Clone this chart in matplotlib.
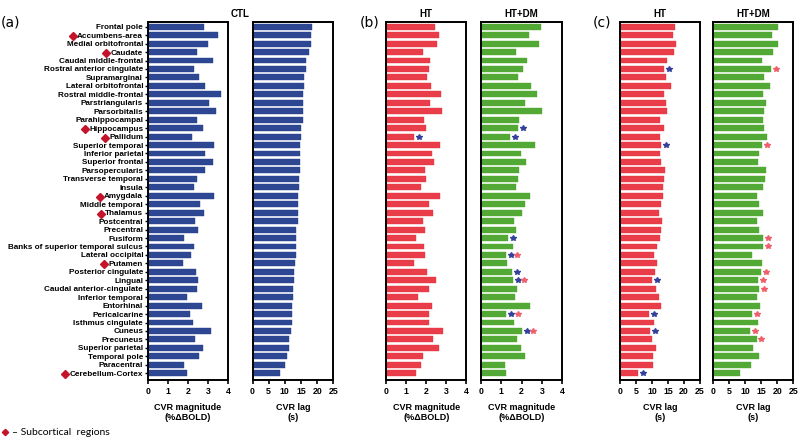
import matplotlib.pyplot as plt
import numpy as np

regions = ['Frontal pole', 'Accumbens-area', 'Medial orbitofrontal', 'Caudate', 'Caudal middle-frontal',
           'Rostral anterior cingulate', 'Supramarginal', 'Lateral orbitofrontal', 'Rostral middle-frontal',
           'Parstriangularis', 'Parsorbitalis', 'Parahippocampal', 'Hippocampus', 'Pallidum',
           'Superior temporal', 'Inferior parietal', 'Superior frontal', 'Parsopercularis',
           'Transverse temporal', 'Insula', 'Amygdala', 'Middle temporal', 'Thalamus', 'Postcentral',
           'Precentral', 'Fusiform', 'Banks of superior temporal sulcus', 'Lateral occipital', 'Putamen',
           'Posterior cingulate', 'Lingual', 'Caudal anterior-cingulate', 'Inferior temporal', 'Entorhinal',
           'Pericalcarine', 'Isthmus cingulate', 'Cuneus', 'Precuneus', 'Superior parietal',
           'Temporal pole', 'Paracentral', 'Cerebellum-Cortex']
subcortical = ['Accumbens-area', 'Caudate', 'Hippocampus', 'Pallidum', 'Amygdala', 'Thalamus',
               'Putamen', 'Cerebellum-Cortex']

ctl_mag = [2.80, 3.48, 2.98, 2.43, 3.23, 2.32, 2.53, 2.83, 3.65, 3.07, 3.40, 2.47, 2.77, 2.22, 3.28,
           2.83, 3.23, 2.83, 2.43, 2.32, 3.30, 2.58, 2.78, 2.35, 2.50, 1.82, 2.31, 2.13, 1.75, 2.38,
           2.48, 2.45, 1.97, 2.68, 2.08, 2.26, 3.16, 2.33, 2.76, 2.56, 1.80, 1.93]
ctl_lag = [18.3, 18.1, 18.0, 17.6, 16.4, 16.4, 15.9, 15.9, 15.6, 15.6, 15.6, 15.5, 15.0, 14.9, 14.8,
           14.7, 14.6, 14.6, 14.4, 14.3, 14.2, 14.1, 14.1, 14.0, 13.6, 13.5, 13.4, 13.4, 13.3, 12.8,
           12.7, 12.6, 12.4, 12.3, 12.2, 12.1, 11.9, 11.4, 11.4, 10.6, 10.2, 8.4]
ht_mag = [2.45, 2.62, 2.52, 1.85, 2.18, 2.15, 2.05, 2.22, 2.72, 2.18, 2.78, 1.88, 1.98, 1.40, 2.70,
          2.28, 2.40, 1.92, 1.97, 1.75, 2.70, 2.12, 2.35, 1.85, 1.93, 1.50, 1.90, 1.92, 1.38, 2.02,
          2.48, 2.12, 1.57, 2.27, 2.12, 2.15, 2.85, 2.32, 2.62, 1.85, 1.73, 1.50]
htdm_mag = [2.97, 2.34, 2.85, 1.72, 2.26, 2.07, 1.84, 2.46, 2.75, 2.16, 3.02, 1.85, 1.84, 1.43, 2.67,
            1.95, 2.21, 1.85, 1.84, 1.74, 2.39, 2.18, 2.00, 1.64, 1.70, 1.33, 1.59, 1.21, 1.30, 1.52,
            1.56, 1.75, 1.66, 2.41, 1.25, 1.64, 2.00, 1.75, 1.97, 2.15, 1.20, 1.21]
ht_lag = [17.3, 16.5, 17.6, 16.8, 14.6, 13.9, 14.3, 15.8, 13.9, 14.3, 14.8, 12.5, 13.6, 12.5, 12.8,
          12.5, 12.7, 14.2, 13.75, 13.3, 13.4, 12.8, 12.1, 13.2, 12.9, 12.4, 11.6, 10.7, 11.5, 10.8,
          10.0, 11.1, 12.2, 12.9, 9.2, 10.5, 9.4, 10.1, 11.25, 10.3, 10.3, 5.7]
htdm_lag = [20.4, 18.5, 20.2, 18.8, 15.4, 18.1, 15.8, 17.9, 15.5, 16.4, 16.0, 15.7, 16.0, 16.7, 15.3,
            14.3, 14.0, 16.5, 16.2, 15.5, 13.6, 14.5, 15.5, 13.8, 14.3, 15.5, 15.5, 12.1, 15.2, 14.9,
            14.0, 14.3, 13.8, 14.8, 12.2, 14.2, 11.6, 13.6, 12.6, 14.3, 12.0, 8.5]

# significance markers (blue = vs CTL, red = vs HT)
ht_mag_blue = ['Pallidum']
htdm_mag_blue = ['Hippocampus', 'Pallidum', 'Fusiform', 'Lateral occipital', 'Posterior cingulate',
                 'Lingual', 'Pericalcarine', 'Cuneus']
htdm_mag_red = ['Lateral occipital', 'Lingual', 'Pericalcarine', 'Cuneus']
ht_lag_blue = ['Rostral anterior cingulate', 'Superior temporal', 'Lingual', 'Pericalcarine', 'Cuneus',
               'Cerebellum-Cortex']
htdm_lag_red = ['Rostral anterior cingulate', 'Superior temporal', 'Fusiform',
                'Banks of superior temporal sulcus', 'Posterior cingulate', 'Lingual',
                'Caudal anterior-cingulate', 'Pericalcarine', 'Cuneus', 'Precuneus']

NAVY = '#233d8c'
RED = '#e8333f'
GREEN = '#4aa52a'
STAR_BLUE = '#34419a'
STAR_RED = '#f0606c'

plt.rcParams['font.family'] = ['Liberation Sans', 'DejaVu Sans']
plt.rcParams['font.weight'] = 'bold'

W, H = 800, 440
fig = plt.figure(figsize=(8, 4.4), dpi=100)


def add_panel(x0, x1, y0=22.5, y1=380):
    return fig.add_axes([x0 / W, 1 - y1 / H, (x1 - x0) / W, (y1 - y0) / H])


y = np.arange(len(regions))


def draw(ax, vals, color, kind, stars=()):
    ax.barh(y, vals, height=0.7, color=color, edgecolor=color, linewidth=0.3, alpha=0.95)
    ax.set_ylim(len(regions) - 0.2, -0.5)
    for s in ax.spines.values():
        s.set_linewidth(1.4)
    if kind == 'mag':
        ax.set_xlim(0, 4)
        ax.set_xticks([0, 1, 2, 3, 4])
        ax.set_xlabel('CVR magnitude\n(%ΔBOLD)', fontsize=6.5, fontweight='bold', labelpad=5)
        step = 0.25
    else:
        ax.set_xlim(0, 25)
        ax.set_xticks([0, 5, 10, 15, 20, 25])
        ax.set_xlabel('CVR lag\n(s)', fontsize=6.5, fontweight='bold', labelpad=5)
        step = 1.5
    ax.tick_params(axis='x', labelsize=6.3, width=1.2, length=3, pad=2)
    ax.set_yticks([])
    for names, col in stars:
        for n in names:
            i = regions.index(n)
            k = 1 if (col == STAR_RED and n in htdm_mag_blue and kind == 'mag') else 0
            ax.plot(vals[i] + step * (1 + 1.2 * k), i, marker='*', ms=4, color=col, mec=col, lw=0,
                    clip_on=False)


ax1 = add_panel(148, 228)
draw(ax1, ctl_mag, NAVY, 'mag')
ax1.set_yticks(y)
ax1.set_yticklabels(regions, fontsize=5.9, fontweight='bold')
ax1.tick_params(axis='y', width=1.0, length=2.5, pad=1)

ax2 = add_panel(252.5, 333.3)
draw(ax2, ctl_lag, NAVY, 'lag')

ax3 = add_panel(386.3, 466.3)
draw(ax3, ht_mag, RED, 'mag', [(ht_mag_blue, STAR_BLUE)])
ax3.set_title('HT', fontsize=7, fontweight='bold', pad=4)

ax4 = add_panel(481, 562.3)
draw(ax4, htdm_mag, GREEN, 'mag', [(htdm_mag_blue, STAR_BLUE), (htdm_mag_red, STAR_RED)])
ax4.set_title('HT+DM', fontsize=7, fontweight='bold', pad=4)

ax5 = add_panel(620, 700)
draw(ax5, ht_lag, RED, 'lag', [(ht_lag_blue, STAR_BLUE)])
ax5.set_title('HT', fontsize=7, fontweight='bold', pad=4)

ax6 = add_panel(712.7, 793.3)
draw(ax6, htdm_lag, GREEN, 'lag', [(htdm_lag_red, STAR_RED)])
ax6.set_title('HT+DM', fontsize=7, fontweight='bold', pad=4)

fig.text(240.5 / W, 1 - 14 / H, 'CTL', fontsize=7, fontweight='bold', ha='center', va='center')
for lab, xp in [('(a)', 10), ('(b)', 370), ('(c)', 602)]:
    fig.text(xp / W, 1 - 22 / H, lab, fontsize=10, fontweight='normal', ha='center', va='center',
             family='DejaVu Sans')

# diamonds in front of subcortical labels
fig.canvas.draw()
renderer = fig.canvas.get_renderer()
for lbl in ax1.get_yticklabels():
    if lbl.get_text() in subcortical:
        bb = lbl.get_window_extent(renderer)
        fig.add_artist(plt.Line2D([(bb.x0 - 4.5) / W], [(bb.y0 + bb.y1) / 2 / H], marker='D', ms=4,
                                  color='#c4142a', lw=0, transform=fig.transFigure))

fig.add_artist(plt.Line2D([5 / W], [1 - 432 / H], marker='D', ms=3.2, color='#c4142a', lw=0,
                          transform=fig.transFigure))
fig.text(12 / W, 1 - 432 / H, '– Subcortical  regions', fontsize=7.5, fontweight='normal',
         family=['Lato', 'DejaVu Sans'], ha='left', va='center')

fig.savefig('out.png', dpi=100)
